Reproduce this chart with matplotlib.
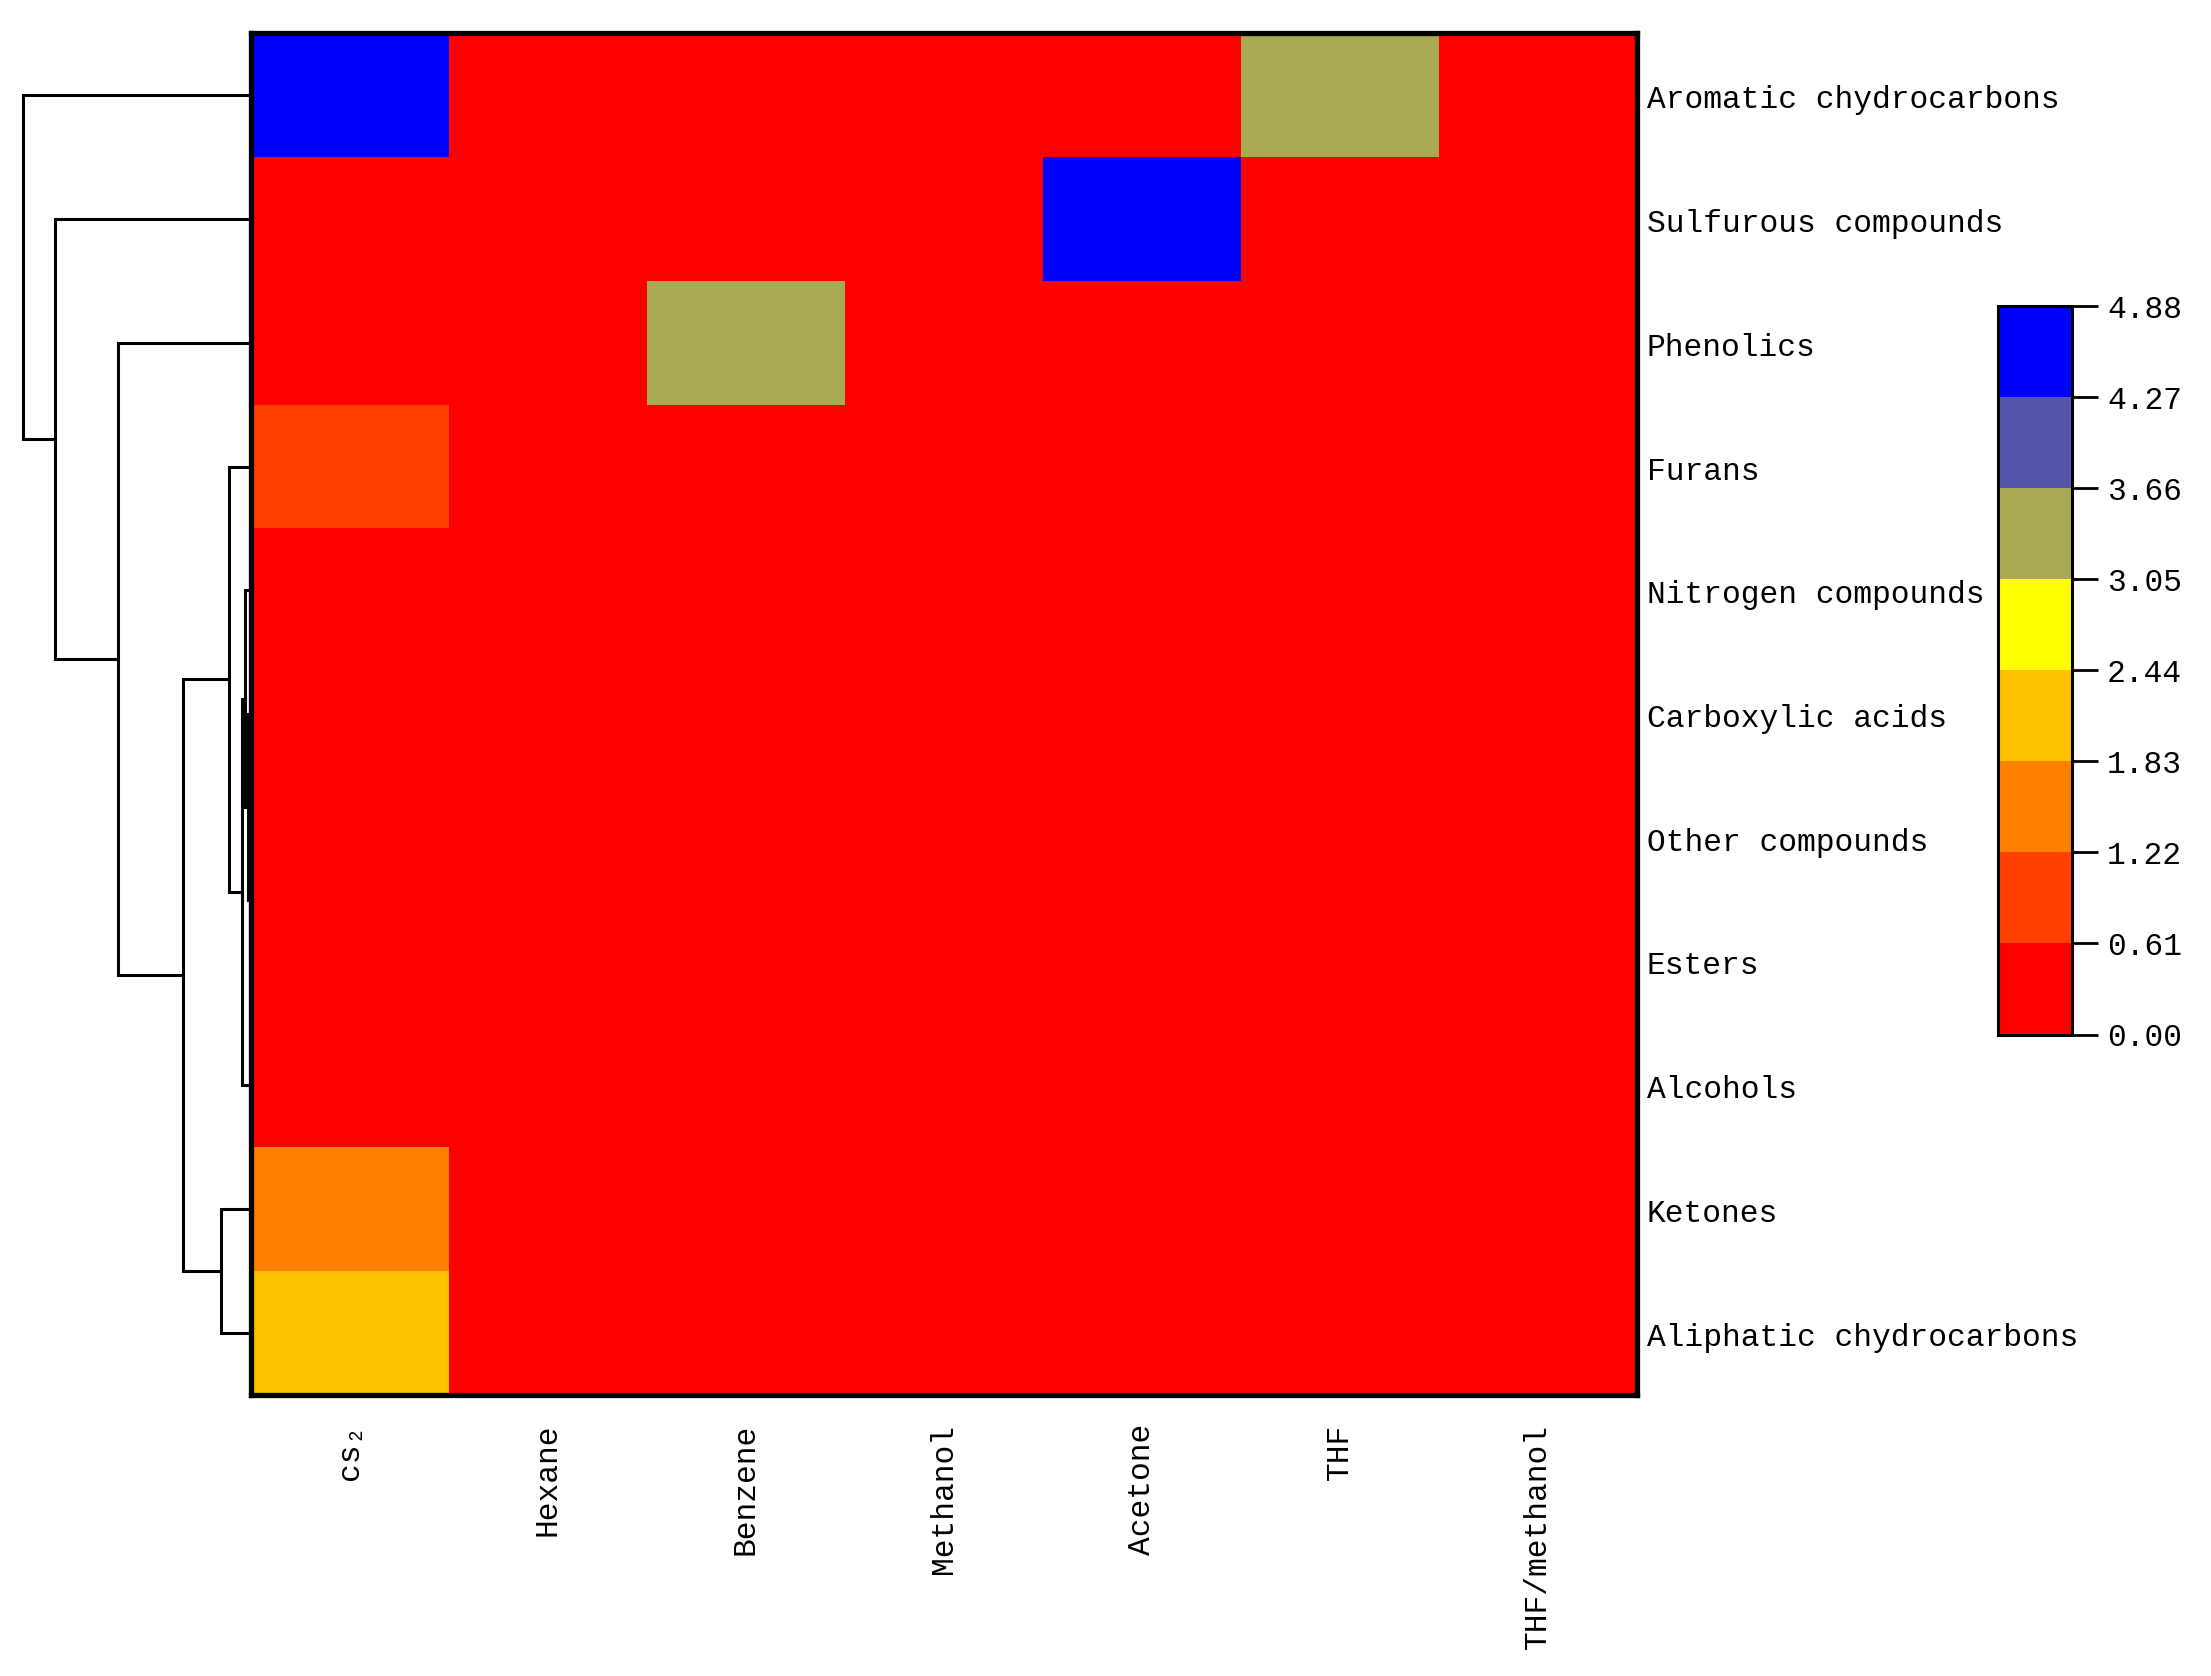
import numpy as np
import matplotlib
matplotlib.use("Agg")
import matplotlib.pyplot as plt
from matplotlib.colors import ListedColormap, BoundaryNorm
from matplotlib.transforms import ScaledTranslation

# ---------------- data ----------------
rows = ["Aromatic chydrocarbons", "Sulfurous compounds", "Phenolics", "Furans",
        "Nitrogen compounds", "Carboxylic acids", "Other compounds", "Esters",
        "Alcohols", "Ketones", "Aliphatic chydrocarbons"]
cols = ["cs\u2082", "Hexane", "Benzene", "Methanol", "Acetone", "THF", "THF/methanol"]

values = np.array([
    # cs2  Hexane Benzene Methanol Acetone THF  THF/methanol
    [4.88, 0.10, 0.12, 0.05, 0.08, 3.40, 0.15],   # Aromatic
    [0.20, 0.02, 0.05, 0.03, 4.60, 0.10, 0.05],   # Sulfurous
    [0.30, 0.05, 3.30, 0.10, 0.05, 0.20, 0.10],   # Phenolics
    [0.95, 0.02, 0.05, 0.04, 0.05, 0.10, 0.05],   # Furans
    [0.25, 0.01, 0.02, 0.03, 0.02, 0.05, 0.03],   # Nitrogen
    [0.20, 0.01, 0.02, 0.02, 0.02, 0.03, 0.02],   # Carboxylic
    [0.22, 0.01, 0.01, 0.02, 0.01, 0.02, 0.02],   # Other
    [0.21, 0.01, 0.01, 0.01, 0.01, 0.02, 0.02],   # Esters
    [0.30, 0.02, 0.03, 0.05, 0.02, 0.04, 0.03],   # Alcohols
    [1.50, 0.05, 0.06, 0.04, 0.05, 0.06, 0.05],   # Ketones
    [2.10, 0.20, 0.06, 0.05, 0.04, 0.10, 0.06],   # Aliphatic
])

bounds = [0.00, 0.61, 1.22, 1.83, 2.44, 3.05, 3.66, 4.27, 4.88]
colors = ["#FF0000", "#FF4000", "#FF8000", "#FFC000", "#FFFF00",
          "#AAAA55", "#5555AA", "#0000FF"]

# row dendrogram linkage: (child_a, child_b, height); leaves 0..10 in row order
linkage = [
    (6, 7, 0.02),
    (5, 11, 0.06),
    (4, 12, 0.12),
    (13, 8, 0.19),
    (3, 14, 0.44),
    (9, 10, 0.60),
    (15, 16, 1.36),
    (2, 17, 2.66),
    (1, 18, 3.92),
    (0, 19, 4.56),
]

# ---------------- figure ----------------
W, H = 2211, 1676
fig = plt.figure(figsize=(W / 100, H / 100), dpi=100)
FONT = ["Liberation Mono", "DejaVu Sans Mono"]
FS = 22.5

def fx(px):
    return px / W

def fy(py):
    return 1 - py / H

hm_l, hm_r, hm_t, hm_b = 251, 1637, 33.5, 1394.5
ax = fig.add_axes([fx(hm_l), fy(hm_b), fx(hm_r - hm_l), (hm_b - hm_t) / H])
dax = fig.add_axes([0, fy(hm_b), fx(hm_l), (hm_b - hm_t) / H])
cb_l, cb_r, cb_t, cb_b = 1998, 2071.5, 306, 1034.5
cax = fig.add_axes([fx(cb_l), fy(cb_b), fx(cb_r - cb_l), (cb_b - cb_t) / H])

cmap = ListedColormap(colors)
norm = BoundaryNorm(bounds, cmap.N)

nr, nc = values.shape
mesh = ax.pcolormesh(np.arange(nc + 1), np.arange(nr + 1), values,
                     cmap=cmap, norm=norm, shading="flat")
ax.set_xlim(0, nc)
ax.set_ylim(nr, 0)
for s in ax.spines.values():
    s.set_linewidth(3.8)
    s.set_color("black")
ax.set_xticks(np.arange(nc) + 0.5)
ax.set_xticklabels(cols, rotation=90, va="top", ha="center",
                   fontsize=FS, family=FONT)
ax.yaxis.tick_right()
ax.set_yticks(np.arange(nr) + 0.5)
ax.set_yticklabels(rows, fontsize=FS, family=FONT, va="center")
ax.tick_params(axis="x", length=0, pad=21)
ax.tick_params(axis="y", length=0, pad=7)
shift = ScaledTranslation(0, -5 / 100, fig.dpi_scale_trans)
for lbl in ax.get_yticklabels():
    lbl.set_transform(lbl.get_transform() + shift)

# dendrogram
pos = {i: i + 0.5 for i in range(nr)}
hgt = {i: 0.0 for i in range(nr)}
for k, (a, b, h) in enumerate(linkage):
    nid = nr + k
    ya, yb = pos[a], pos[b]
    dax.plot([hgt[a], h, h, hgt[b]], [ya, ya, yb, yb], color="black",
             lw=2.2, solid_capstyle="butt", solid_joinstyle="miter")
    pos[nid] = (ya + yb) / 2
    hgt[nid] = h
dax.set_xlim(hm_l / 50.0, 0)
dax.set_ylim(nr, 0)
dax.axis("off")

# colorbar
cb = fig.colorbar(mesh, cax=cax, boundaries=bounds, ticks=bounds, spacing="uniform")
cb.outline.set_linewidth(2.2)
cb.ax.tick_params(length=18.5, width=2.0, pad=7, labelsize=FS)
cb.ax.set_yticklabels([f"{b:.2f}" for b in bounds], family=FONT, fontsize=FS)

fig.savefig("out.png", dpi=100, facecolor="white")
